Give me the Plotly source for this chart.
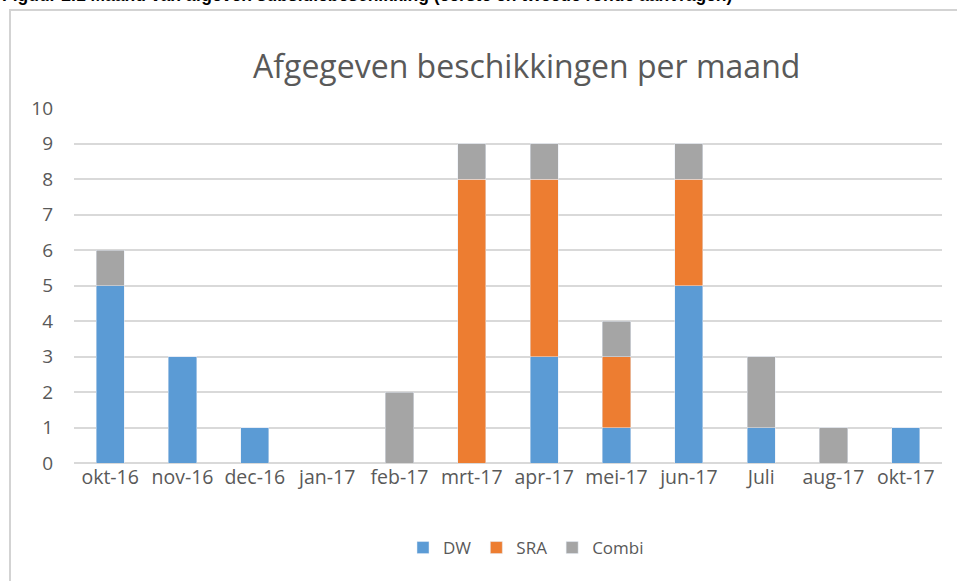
import plotly.graph_objects as go

months = ["okt-16", "nov-16", "dec-16", "jan-17", "feb-17", "mrt-17", "apr-17",
          "mei-17", "jun-17", "Juli", "aug-17", "okt-17"]
dw = [5, 3, 1, 0, 0, 0, 3, 1, 5, 1, 0, 1]
sra = [0, 0, 0, 0, 0, 8, 5, 2, 3, 0, 0, 0]
combi = [1, 0, 0, 0, 2, 1, 1, 1, 1, 2, 1, 0]
y_ticks = list(range(0, 11))

W, H = 957, 581
L, R, T, B = 74, 15, 108, 118
pw, ph = W - L - R, H - T - B

def px_x(x):
    return (x - L) / pw

def px_y(y):
    return (H - B - y) / ph

txt = "#595959"
fig = go.Figure()
fig.add_bar(x=months, y=dw, name="DW", marker_color="#5B9BD5")
fig.add_bar(x=months, y=sra, name="SRA", marker_color="#ED7D31")
fig.add_bar(x=months, y=combi, name="Combi", marker_color="#A5A5A5")

fig.update_layout(
    barmode="stack",
    bargap=0.61,
    width=W, height=H,
    margin=dict(l=L, r=R, t=T, b=B),
    paper_bgcolor="white", plot_bgcolor="white",
    font=dict(family="Open Sans", size=19, color=txt),
    showlegend=True,
    legend=dict(orientation="h", x=px_x(526), y=px_y(548), xanchor="center", yanchor="middle",
                font=dict(size=17, color=txt), itemwidth=30, traceorder="normal"),
    xaxis=dict(showgrid=False, showline=False, ticks="", tickfont=dict(size=19.5, color=txt)),
    yaxis=dict(range=[0, 10], tickvals=y_ticks, showgrid=True, gridcolor="#D9D9D9", gridwidth=1.5,
               zeroline=True, zerolinecolor="#D9D9D9", zerolinewidth=1.5, showline=False,
               ticks="", ticklabelstandoff=20, tickfont=dict(size=19, color=txt)),
    shapes=[dict(type="rect", xref="paper", yref="paper",
                 x0=px_x(10), x1=px_x(970), y0=px_y(600), y1=px_y(10),
                 line=dict(color="#D3D3D3", width=2), fillcolor="rgba(0,0,0,0)", layer="below")],
    annotations=[
        dict(text="Afgegeven beschikkingen per maand", xref="paper", yref="paper",
             x=px_x(526), y=px_y(66), xanchor="center", yanchor="middle", showarrow=False,
             font=dict(family="Open Sans", size=32, color=txt)),
        dict(text="<b>Figuur 2.1 Maand van afgeven subsidiebeschikking (eerste en tweede ronde aanvragen)</b>",
             xref="paper", yref="paper", x=px_x(0), y=px_y(7.5), xanchor="left", yanchor="bottom",
             showarrow=False, font=dict(family="Liberation Sans", size=17.5, color="black")),
    ],
)
fig.write_html("out.html", config={"displayModeBar": False},
               post_script="document.body.style.margin='0';document.body.style.overflow='hidden';")
